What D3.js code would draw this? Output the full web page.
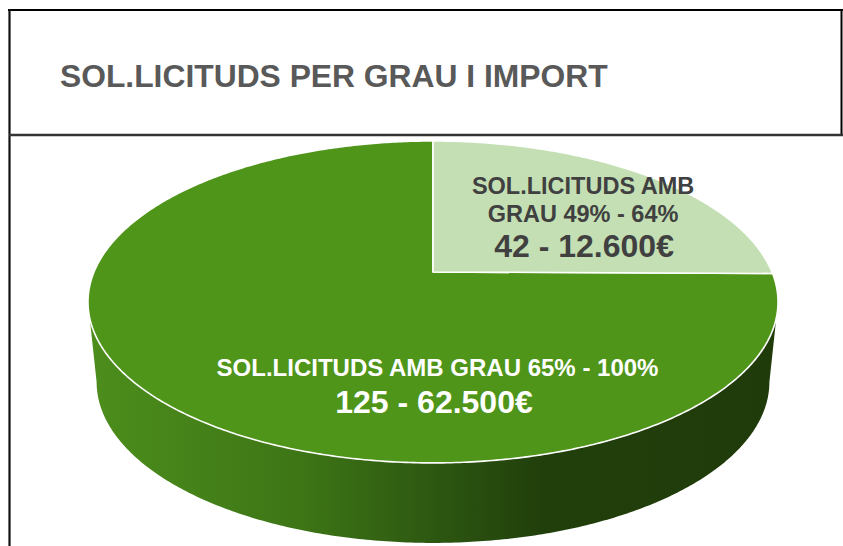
<!DOCTYPE html>
<html>
<head>
<meta charset="utf-8">
<script src="https://cdn.jsdelivr.net/npm/d3@7"></script>
<style>
body { margin: 0; background: #fff; }
text { font-family: "Liberation Sans", Arial, sans-serif; font-weight: bold; }
</style>
</head>
<body>
<svg id="chart" width="843" height="546"></svg>
<script>
// chart values
var title = "SOL.LICITUDS PER GRAU I IMPORT";
var categories = ["GRAU 49% - 64%", "GRAU 65% - 100%"];
var counts = [42, 125];
var amounts = [12600, 62500];
// how each slice label is broken into lines
var label_lines = [["SOL.LICITUDS AMB", "GRAU 49% - 64%"], ["SOL.LICITUDS AMB GRAU 65% - 100%"]];
var slice_colours = ["#c4dfb3", "#4f951a"];

var svg = d3.select("#chart");

// euro format with dots for thousands
var locale = d3.formatLocale({decimal: ",", thousands: ".", grouping: [3], currency: ["", "€"]});
var fmt = locale.format("$,d");

// frame round the chart
svg.append("line").attr("x1", 8).attr("x2", 843).attr("y1", 10).attr("y2", 10)
    .attr("stroke", "#000").attr("stroke-width", 2);
svg.append("line").attr("x1", 9.5).attr("x2", 9.5).attr("y1", 9).attr("y2", 546)
    .attr("stroke", "#111").attr("stroke-width", 2.2);
svg.append("line").attr("x1", 841.5).attr("x2", 841.5).attr("y1", 9).attr("y2", 135)
    .attr("stroke", "#000").attr("stroke-width", 2);
svg.append("line").attr("x1", 9).attr("x2", 843).attr("y1", 135).attr("y2", 135)
    .attr("stroke", "#333").attr("stroke-width", 2.5);

svg.append("text").attr("x", 60).attr("y", 87)
    .attr("font-size", "31.8px").attr("fill", "#595959")
    .text(title);

// the 3d pie: a circle seen in perspective, far half squashed
var cx = 433, cy = 272, depth = 80, persp = -0.186, bottom_shrink = 0.975;
var sx = d3.scaleLinear().domain([0, 1]).range([0, 339]);
var sy = d3.scaleLinear().domain([0, 1]).range([0, 155.4]);

function project(r, a) {
    var u = r * Math.sin(a), v = -r * Math.cos(a);
    var den = 1 + persp * v;
    return [cx + sx(u) / den, cy + sy(v) / den];
}

var pie = d3.pie().sort(null).value(d => d);
var arcs = pie(counts);

var line = d3.line();

function rim(a0, a1) {
    var n = Math.max(2, Math.ceil((a1 - a0) / 0.01));
    return d3.range(n + 1).map(i => project(1, a0 + (a1 - a0) * i / n));
}

// side wall: only the front part can be seen
var a_right = Math.PI - Math.acos(-persp), a_left = Math.PI + Math.acos(-persp);
var defs = svg.append("defs");
var grad = defs.append("linearGradient").attr("id", "side_grad")
    .attr("gradientUnits", "userSpaceOnUse")
    .attr("x1", cx - sx(1)).attr("x2", cx + sx(1)).attr("y1", 0).attr("y2", 0);
[[0, "#4c8d1c"], [0.3, "#3e7616"], [0.5, "#2d5811"], [0.66, "#213f0b"], [1, "#1f3b0a"]].forEach(function(s){
    grad.append("stop").attr("offset", s[0]).attr("stop-color", s[1]);
});

var top_pts = rim(a_right, a_left);
var bottom_pts = top_pts.map(p => [cx + (p[0] - cx) * bottom_shrink, p[1] + depth]).reverse();
svg.append("path")
    .attr("d", line(top_pts.concat(bottom_pts)) + "Z")
    .attr("fill", "url(#side_grad)");

// top faces of the slices, big one first
var order = [1, 0];
order.forEach(function(i){
    var d = arcs[i];
    var pts = [[cx, cy]].concat(rim(d.startAngle, d.endAngle));
    svg.append("path")
        .attr("d", line(pts) + "Z")
        .attr("fill", slice_colours[i])
        .attr("stroke", "#fff")
        .attr("stroke-width", 1.6)
        .attr("stroke-linejoin", "round");
});

// labels: text lines then the count and amount
var label_anchor = [{r: 0.582, a: 54 * Math.PI / 180, dx: 0, dy: [-28, 0, 34], fill: "#404040", size: 23.5},
                    {r: 0.595, a: Math.PI, dx: 4.5, dy: [0, 36], fill: "#ffffff", size: 24}];

arcs.forEach(function(d, i){
    var an = label_anchor[i];
    var p = project(an.r, an.a);
    var g = svg.append("g").attr("transform", `translate(${p[0] + an.dx},${p[1]})`);
    var lines = label_lines[i];
    lines.forEach(function(t, j){
        g.append("text").attr("x", 0).attr("y", an.dy[j])
            .attr("text-anchor", "middle")
            .attr("font-size", an.size + "px")
            .attr("fill", an.fill)
            .text(t);
    });
    g.append("text").attr("x", i == 1 ? -3.5 : 1).attr("y", an.dy[lines.length] + 1)
        .attr("text-anchor", "middle")
        .attr("font-size", "32px")
        .attr("fill", an.fill)
        .text(d.data + " - " + fmt(amounts[i]));
});
</script>
</body>
</html>
